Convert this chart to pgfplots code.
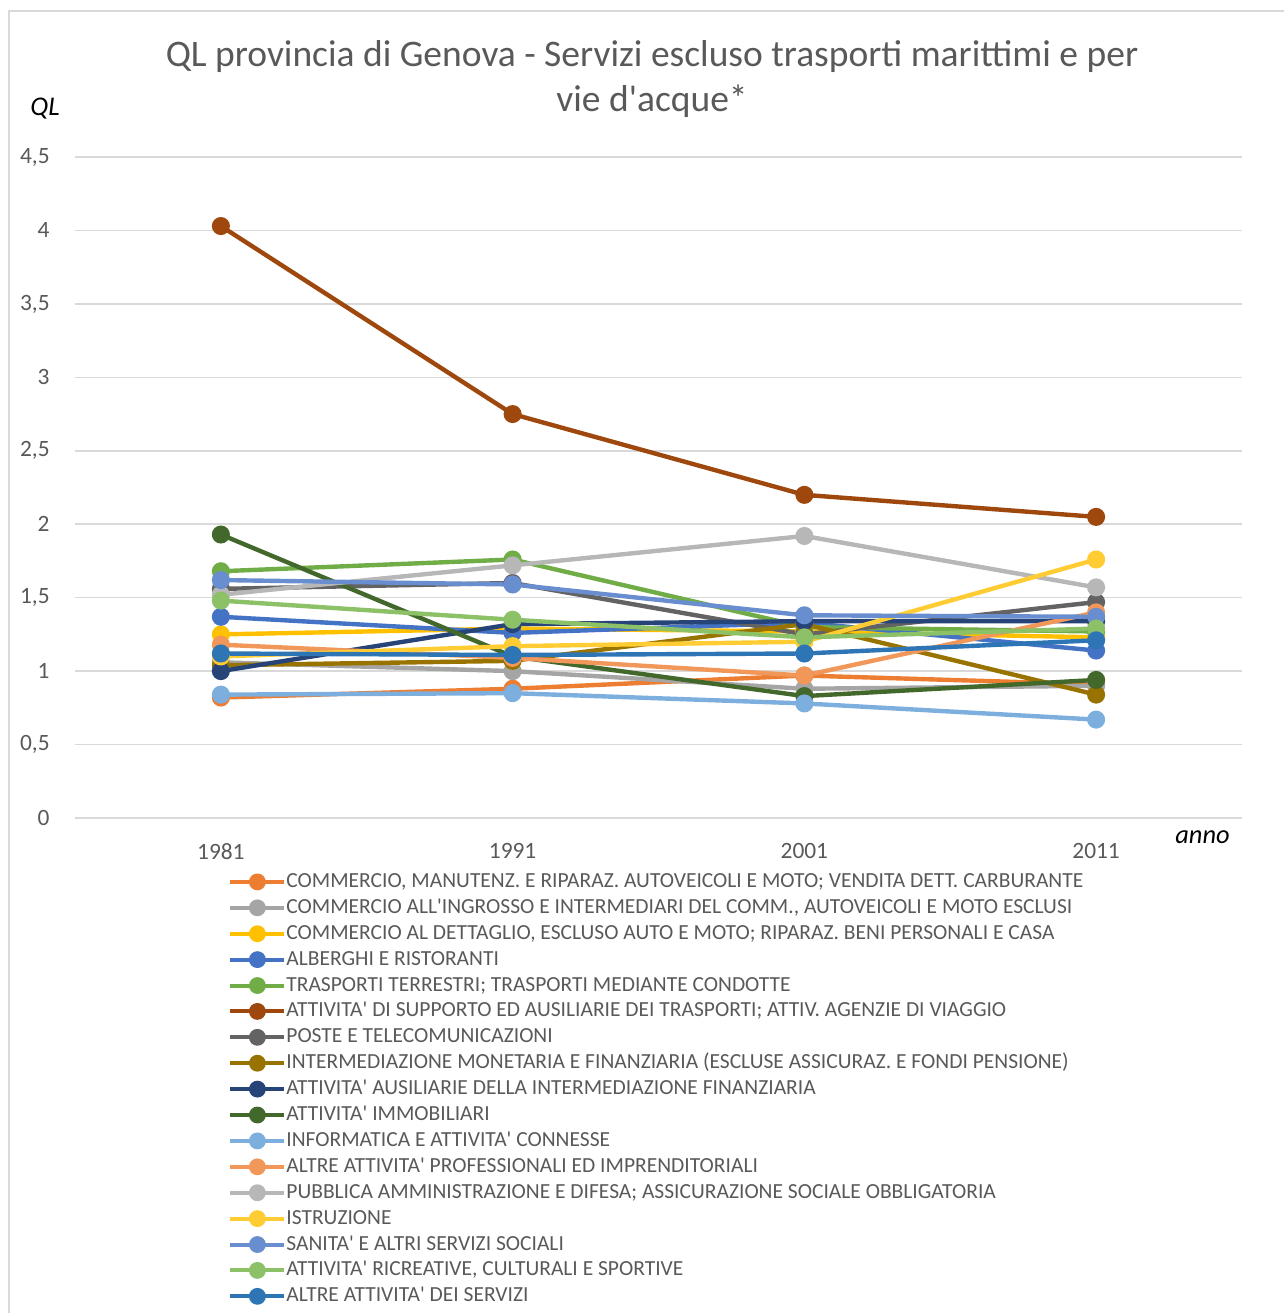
\documentclass[border=0pt]{standalone}
\usepackage{fontspec}
\setmainfont[Ligatures=TeXOff]{Carlito}
\usepackage{pgfplots}
\pgfplotsset{compat=1.18}
\usepackage{pgfplotstable}
\definecolor{txt}{HTML}{595959}
\definecolor{grd}{HTML}{D9D9D9}
\definecolor{s1}{HTML}{ED7D31}
\definecolor{s2}{HTML}{A5A5A5}
\definecolor{s3}{HTML}{FFC000}
\definecolor{s4}{HTML}{4472C4}
\definecolor{s5}{HTML}{70AD47}
\definecolor{s6}{HTML}{9E480E}
\definecolor{s7}{HTML}{636363}
\definecolor{s8}{HTML}{997300}
\definecolor{s9}{HTML}{264478}
\definecolor{s10}{HTML}{43682B}
\definecolor{s11}{HTML}{7CAFDD}
\definecolor{s12}{HTML}{F1975A}
\definecolor{s13}{HTML}{B7B7B7}
\definecolor{s14}{HTML}{FFCD33}
\definecolor{s15}{HTML}{698ED0}
\definecolor{s16}{HTML}{8CC168}
\definecolor{s17}{HTML}{2E75B6}
% x: 0=1981, 1=1991, 2=2001, 3=2011
\pgfplotstableread{
x  a    b    c    d    e    f    g    h    i    j    k    l    m    n    o    p    q
0  0.82 1.06 1.25 1.37 1.68 4.03 1.56 1.04 1.00 1.93 0.84 1.18 1.52 1.10 1.62 1.48 1.12
1  0.88 1.00 1.29 1.26 1.76 2.75 1.60 1.07 1.32 1.10 0.85 1.09 1.72 1.17 1.59 1.35 1.11
2  0.97 0.88 1.27 1.33 1.30 2.20 1.25 1.32 1.34 0.83 0.78 0.97 1.92 1.20 1.38 1.23 1.12
3  0.91 0.90 1.23 1.14 1.27 2.05 1.47 0.84 1.34 0.94 0.67 1.40 1.57 1.76 1.37 1.29 1.21
}\datatab
\begin{document}
\begin{tikzpicture}
\path[use as bounding box] (0pt,0pt) rectangle (642pt,-656.5pt);
\draw[grd, line width=0.75pt] (4.5pt,-700pt) -- (4.5pt,-5.5pt) -- (700pt,-5.5pt);
\node[anchor=base, text=txt, font=\fontsize{18.75}{22}\selectfont] at (326pt,-33.3pt) {QL provincia di Genova - Servizi escluso trasporti marittimi e per};
\node[anchor=base, text=txt, font=\fontsize{18.75}{22}\selectfont] at (326pt,-55.8pt) {vie d'acque*};
\node[anchor=base west, inner sep=0pt, font=\fontsize{13.5}{16}\selectfont\itshape] at (15pt,-57.5pt) {QL};
\node[anchor=base west, inner sep=0pt, font=\fontsize{13.2}{16}\selectfont\itshape] at (587.5pt,-421.5pt) {anno};
\begin{axis}[
  at={(37.5pt,-409pt)}, anchor=south west,
  scale only axis, width=583.5pt, height=330.5pt,
  xmin=-0.5, xmax=3.5, ymin=0, ymax=4.5,
  axis line style={draw=none},
  major tick length=0pt,
  xtick={0,1,2,3}, xticklabels={1981,1991,2001,2011},
  ytick={0,0.5,1,1.5,2,2.5,3,3.5,4,4.5},
  yticklabels={0,{0,5},1,{1,5},2,{2,5},3,{3,5},4,{4,5}},
  ymajorgrids, grid style={grd, line width=0.75pt},
  ticklabel style={text=txt, font=\fontsize{11.7}{14}\selectfont, inner sep=0pt},
  yticklabel style={anchor=east, xshift=-12.5pt},
  xticklabel style={anchor=north, yshift=-12.5pt},
  every axis plot/.append style={line width=2.2pt, mark=*, mark size=3.4pt, mark options={solid}},
  legend image code/.code={\draw[mark repeat=2, mark phase=2, #1, line width=2pt, mark size=3.2pt] plot coordinates {(0pt,0pt) (13.5pt,0pt) (27pt,0pt)};},
  legend cell align=left,
  legend style={at={(0.1311,-0.0817)}, anchor=north west, draw=none, fill=none, inner sep=0pt,
    font=\fontsize{10.75}{13}\selectfont, text=txt, row sep=3.45pt, column sep=0pt,
    nodes={inner sep=0pt, text height=7.5pt, text depth=2pt}},
]
\addplot[s1, mark options={fill=s1}] table[x=x,y=a] {\datatab};
\addlegendentry{COMMERCIO, MANUTENZ. E RIPARAZ. AUTOVEICOLI E MOTO; VENDITA DETT. CARBURANTE}
\addplot[s2, mark options={fill=s2}] table[x=x,y=b] {\datatab};
\addlegendentry{COMMERCIO ALL'INGROSSO E INTERMEDIARI DEL COMM., AUTOVEICOLI E MOTO ESCLUSI}
\addplot[s3, mark options={fill=s3}] table[x=x,y=c] {\datatab};
\addlegendentry{COMMERCIO AL DETTAGLIO, ESCLUSO AUTO E MOTO; RIPARAZ. BENI PERSONALI E CASA}
\addplot[s4, mark options={fill=s4}] table[x=x,y=d] {\datatab};
\addlegendentry{ALBERGHI E RISTORANTI}
\addplot[s5, mark options={fill=s5}] table[x=x,y=e] {\datatab};
\addlegendentry{TRASPORTI TERRESTRI; TRASPORTI MEDIANTE CONDOTTE}
\addplot[s6, mark options={fill=s6}] table[x=x,y=f] {\datatab};
\addlegendentry{ATTIVITA' DI SUPPORTO ED AUSILIARIE DEI TRASPORTI; ATTIV. AGENZIE DI VIAGGIO}
\addplot[s7, mark options={fill=s7}] table[x=x,y=g] {\datatab};
\addlegendentry{POSTE E TELECOMUNICAZIONI}
\addplot[s8, mark options={fill=s8}] table[x=x,y=h] {\datatab};
\addlegendentry{INTERMEDIAZIONE MONETARIA E FINANZIARIA (ESCLUSE ASSICURAZ. E FONDI PENSIONE)}
\addplot[s9, mark options={fill=s9}] table[x=x,y=i] {\datatab};
\addlegendentry{ATTIVITA' AUSILIARIE DELLA INTERMEDIAZIONE FINANZIARIA}
\addplot[s10, mark options={fill=s10}] table[x=x,y=j] {\datatab};
\addlegendentry{ATTIVITA' IMMOBILIARI}
\addplot[s11, mark options={fill=s11}] table[x=x,y=k] {\datatab};
\addlegendentry{INFORMATICA E ATTIVITA' CONNESSE}
\addplot[s12, mark options={fill=s12}] table[x=x,y=l] {\datatab};
\addlegendentry{ALTRE ATTIVITA' PROFESSIONALI ED IMPRENDITORIALI}
\addplot[s13, mark options={fill=s13}] table[x=x,y=m] {\datatab};
\addlegendentry{PUBBLICA AMMINISTRAZIONE E DIFESA; ASSICURAZIONE SOCIALE OBBLIGATORIA}
\addplot[s14, mark options={fill=s14}] table[x=x,y=n] {\datatab};
\addlegendentry{ISTRUZIONE}
\addplot[s15, mark options={fill=s15}] table[x=x,y=o] {\datatab};
\addlegendentry{SANITA' E ALTRI SERVIZI SOCIALI}
\addplot[s16, mark options={fill=s16}] table[x=x,y=p] {\datatab};
\addlegendentry{ATTIVITA' RICREATIVE, CULTURALI E SPORTIVE}
\addplot[s17, mark options={fill=s17}] table[x=x,y=q] {\datatab};
\addlegendentry{ALTRE ATTIVITA' DEI SERVIZI}
\end{axis}
\end{tikzpicture}
\end{document}
